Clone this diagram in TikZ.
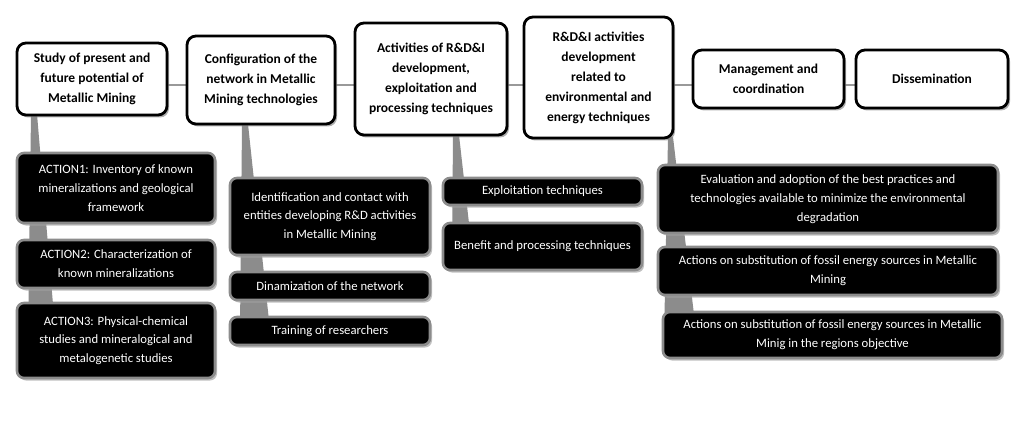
\documentclass[tikz,border=0pt]{standalone}
\usepackage{fontspec}
\setmainfont{Carlito}
\usetikzlibrary{shadows,backgrounds}
\begin{document}
\begin{tikzpicture}[x=1pt,y=-1pt,
  head/.style={draw=black, line width=2.8pt, fill=white, rounded corners=9pt,
    align=center, inner sep=0pt, font=\fontsize{13.5}{20}\selectfont\bfseries,
    drop shadow={shadow xshift=2pt, shadow yshift=-2.5pt, fill=black!45, opacity=0.7}},
  item/.style={draw=black!45, line width=2.6pt, fill=black, text=white, rounded corners=7pt,
    align=center, inner sep=0pt, font=\fontsize{12.7}{18.8}\selectfont,
    drop shadow={shadow xshift=2pt, shadow yshift=-2.5pt, fill=black!35, opacity=0.7}},
  hline/.style={draw=black!40, line width=1.8pt},
  wedge/.style={fill=black!45}]
\useasboundingbox (0,0) rectangle (1024,422);
% headers
\node[head, minimum width=150pt, minimum height=72pt] (h1) at (92,79) {Study of present and\\future potential of\\Metallic Mining};
\node[head, minimum width=148pt, minimum height=88pt] (h2) at (261,80) {Configuration of the\\network in Metallic\\Mining technologies};
\node[head, minimum width=152pt, minimum height=112pt] (h3) at (431,79) {Activities of R\&D\&I\\development,\\exploitation and\\processing techniques};
\node[head, minimum width=149pt, minimum height=121pt] (h4) at (598.5,77.5) {R\&D\&I activities\\development\\related to\\environmental and\\energy techniques};
\node[head, minimum width=151pt, minimum height=58pt] (h5) at (768.5,79) {Management and\\coordination};
\node[head, minimum width=152pt, minimum height=58pt] (h6) at (932,79) {Dissemination};
% items
\node[item, minimum width=198pt, minimum height=70pt] (a1) at (116,188) {ACTION1: Inventory of known\\mineralizations and geological\\framework};
\node[item, minimum width=198pt, minimum height=48pt] (a2) at (116,264) {ACTION2: Characterization of\\known mineralizations};
\node[item, minimum width=198pt, minimum height=75pt] (a3) at (116,340.5) {ACTION3: Physical-chemical\\studies and mineralogical and\\metalogenetic studies};
\node[item, minimum width=200pt, minimum height=77pt] (b1) at (330,216.5) {Identification and contact with\\entities developing R\&D activities\\in Metallic Mining};
\node[item, minimum width=200pt, minimum height=28pt] (b2) at (330,286) {Dinamization of the network};
\node[item, minimum width=200pt, minimum height=28pt] (b3) at (330,331) {Training of researchers};
\node[item, minimum width=199pt, minimum height=27pt] (c1) at (542.5,191.5) {Exploitation techniques};
\node[item, minimum width=199pt, minimum height=47pt] (c2) at (542.5,246.5) {Benefit and processing techniques};
\node[item, minimum width=340pt, minimum height=68pt] (d1) at (828,199) {Evaluation and adoption of the best practices and\\technologies available to minimize the environmental\\degradation};
\node[item, minimum width=340pt, minimum height=48pt] (d2) at (828,271) {Actions on substitution of fossil energy sources in Metallic\\Mining};
\node[item, minimum width=339pt, minimum height=46pt] (d3) at (832.5,335) {Actions on substitution of fossil energy sources in Metallic\\Minig in the regions objective};
\begin{pgfonlayer}{background}
  \fill[white] (0,0) rectangle (1024,422);
  \draw[hline] (h1.center |- 0,85) -- (h6.center |- 0,85);
  \fill[wedge] (31,114) -- (37,114) -- (56,340) -- (28,340) -- cycle;
  \fill[wedge] (242,124) -- (248,124) -- (270,330) -- (240,330) -- cycle;
  \fill[wedge] (453,135) -- (459,135) -- (472,250) -- (452,250) -- cycle;
  \fill[wedge] (668,137) -- (673,137) -- (697,340) -- (664,340) -- cycle;
\end{pgfonlayer}
\end{tikzpicture}
\end{document}
